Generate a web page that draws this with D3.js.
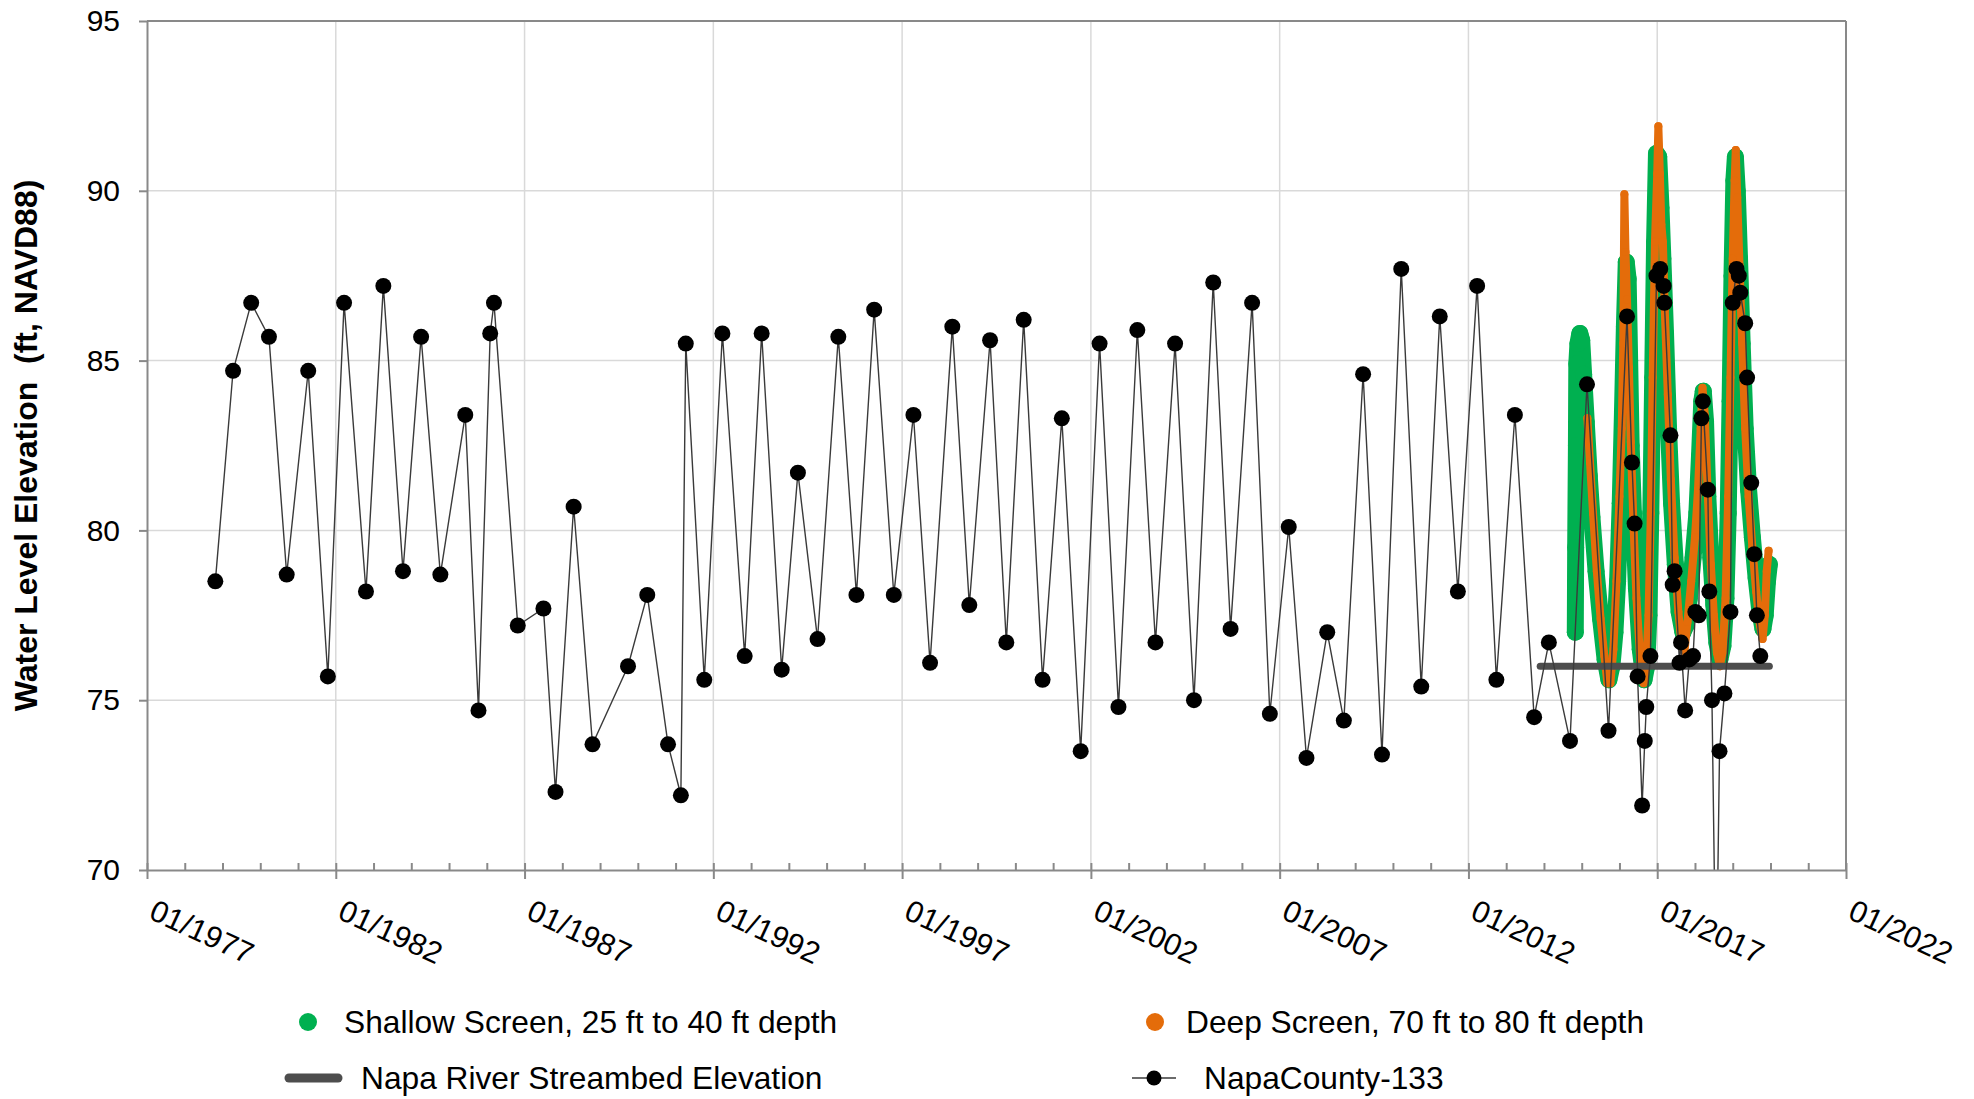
<!DOCTYPE html>
<html><head><meta charset="utf-8">
<script src="https://cdn.jsdelivr.net/npm/d3@7"></script>
<style>
html,body{margin:0;padding:0;background:#fff;}
svg{display:block;font-family:"Liberation Sans",Arial,sans-serif;}
</style></head><body>
<svg id="chart" width="1974" height="1099"></svg>
<script>
// ---- Data (decimal years, ft NAVD88) ----
const napaYears = [1978.81,1979.28,1979.76,1980.23,1980.70,1981.27,1981.79,1982.22,1982.80,1983.26,1983.78,1984.26,1984.77,1985.43,1985.78,1986.09,1986.19,1986.82,1987.50,1987.82,1988.30,1988.80,1989.74,1990.25,1990.80,1991.14,1991.27,1991.76,1992.24,1992.83,1993.28,1993.81,1994.24,1994.76,1995.31,1995.79,1996.26,1996.78,1997.30,1997.74,1998.33,1998.78,1999.33,1999.76,2000.22,2000.72,2001.23,2001.73,2002.23,2002.73,2003.23,2003.71,2004.23,2004.73,2005.24,2005.70,2006.27,2006.74,2007.24,2007.71,2008.26,2008.70,2009.21,2009.71,2010.22,2010.75,2011.24,2011.72,2012.23,2012.74,2013.23,2013.74,2014.13,2014.69,2015.14,2015.71,2016.20,2016.33,2016.40,2016.48,2016.60,2016.67,2016.71,2016.82,2016.98,2017.08,2017.17,2017.19,2017.35,2017.41,2017.46,2017.59,2017.63,2017.74,2017.85,2017.95,2018.01,2018.10,2018.17,2018.21,2018.34,2018.38,2018.45,2018.56,2018.65,2018.78,2018.94,2019.00,2019.10,2019.16,2019.20,2019.33,2019.38,2019.49,2019.57,2019.64,2019.73];
const napaLevels = [78.5,84.7,86.7,85.7,78.7,84.7,75.7,86.7,78.2,87.2,78.8,85.7,78.7,83.4,74.7,85.8,86.7,77.2,77.7,72.3,80.7,73.7,76.0,78.1,73.7,72.2,85.5,75.6,85.8,76.3,85.8,75.9,81.7,76.8,85.7,78.1,86.5,78.1,83.4,76.1,86.0,77.8,85.6,76.7,86.2,75.6,83.3,73.5,85.5,74.8,85.9,76.7,85.5,75.0,87.3,77.1,86.7,74.6,80.1,73.3,77.0,74.4,84.6,73.4,87.7,75.4,86.3,78.2,87.2,75.6,83.4,74.5,76.7,73.8,84.3,74.1,86.3,82.0,80.2,75.7,71.9,73.8,74.8,76.3,87.5,87.7,87.2,86.7,82.8,78.4,78.8,76.1,76.7,74.7,76.2,76.3,77.6,77.5,83.3,83.8,81.2,78.2,75.0,66.0,73.5,75.2,77.6,86.7,87.7,87.5,87.0,86.1,84.5,81.4,79.3,77.5,76.3];

const shallowYears = [2014.83,2014.84,2014.86,2014.87,2014.90,2014.95,2015.00,2015.05,2015.12,2015.20,2015.27,2015.38,2015.50,2015.62,2015.72,2015.80,2015.88,2015.95,2016.02,2016.08,2016.13,2016.18,2016.23,2016.27,2016.31,2016.37,2016.45,2016.55,2016.65,2016.72,2016.78,2016.83,2016.88,2016.93,2016.98,2017.04,2017.10,2017.15,2017.22,2017.30,2017.38,2017.48,2017.58,2017.68,2017.76,2017.85,2017.95,2018.05,2018.12,2018.18,2018.22,2018.28,2018.34,2018.42,2018.50,2018.58,2018.66,2018.74,2018.82,2018.88,2018.93,2018.98,2019.03,2019.07,2019.12,2019.18,2019.25,2019.33,2019.42,2019.52,2019.62,2019.72,2019.80,2019.86,2019.92,2019.97];
const shallowLevels = [77.0,79.5,82.5,84.9,85.5,85.8,85.6,84.6,83.2,81.6,80.4,78.8,77.4,76.2,75.6,76.0,77.0,78.5,80.8,83.5,86.0,87.9,87.4,85.0,82.5,80.5,78.3,76.5,75.6,76.0,77.5,80.5,84.5,88.5,91.1,91.0,89.5,88.0,85.8,83.0,80.8,79.0,77.6,77.0,77.2,78.0,79.2,80.5,82.2,83.8,84.1,83.2,81.0,79.2,77.8,76.7,76.2,76.6,78.0,80.5,83.8,87.5,90.3,91.0,90.0,88.0,85.5,83.0,81.2,79.8,78.6,77.6,77.1,77.5,78.5,79.0];

const deepYears = [2015.15,2015.22,2015.30,2015.40,2015.50,2015.60,2015.68,2015.76,2015.84,2015.92,2016.00,2016.06,2016.10,2016.13,2016.16,2016.20,2016.25,2016.30,2016.37,2016.45,2016.55,2016.64,2016.70,2016.77,2016.83,2016.88,2016.94,2017.00,2017.03,2017.07,2017.11,2017.15,2017.20,2017.28,2017.36,2017.46,2017.56,2017.65,2017.72,2017.80,2017.90,2018.00,2018.08,2018.15,2018.20,2018.26,2018.33,2018.42,2018.50,2018.58,2018.66,2018.73,2018.81,2018.88,2018.94,2019.00,2019.05,2019.08,2019.12,2019.18,2019.25,2019.33,2019.42,2019.52,2019.62,2019.72,2019.79,2019.85,2019.90,2019.95];
const deepLevels = [83.3,82.0,80.5,78.8,77.4,76.3,75.5,75.5,76.5,78.5,81.0,83.0,85.5,89.9,88.2,86.8,84.8,82.6,80.2,78.0,76.2,75.5,75.9,77.5,80.5,84.5,88.5,90.5,91.9,90.5,89.0,88.5,86.5,84.0,81.5,79.2,77.6,76.6,76.4,77.3,78.5,79.8,81.2,83.0,84.2,83.4,81.3,79.0,77.5,76.4,76.0,76.4,78.0,81.0,84.5,88.0,90.3,91.2,89.8,87.8,85.5,83.0,81.0,79.5,78.2,77.2,76.8,77.5,78.8,79.4];

const streambedYears = [2013.9, 2019.97];
const streambedLevels = [76.0, 76.0];

const xTickYears = [1977,1982,1987,1992,1997,2002,2007,2012,2017,2022];
const yTicks = [70,75,80,85,90,95];
const legendLabels = ["Shallow Screen, 25 ft to 40 ft depth","Deep Screen, 70 ft to 80 ft depth","Napa River Streambed Elevation","NapaCounty-133"];
const yTitle = "Water Level Elevation  (ft, NAVD88)";

// ---- Layout ----
const W = 1974, H = 1099;
const m = {left:147, right:128, top:21, bottom:229};
const iw = W - m.left - m.right, ih = H - m.top - m.bottom;
const C = {green:"#00b050", orange:"#e46c0a", stream:"#4d4d4d", black:"#000", line:"#3a3a3a", axis:"#898989", grid:"#d9d9d9"};

const svg = d3.select("#chart");
const g = svg.append("g").attr("transform",`translate(${m.left},${m.top})`);

const x = d3.scaleLinear().domain([1977,2022]).range([0,iw]);
const y = d3.scaleLinear().domain([70,95]).range([ih,0]);

// grid
g.append("g").selectAll("line").data(yTicks.filter(v=>v>70&&v<95)).join("line")
  .attr("x1",0).attr("x2",iw).attr("y1",d=>y(d)).attr("y2",d=>y(d))
  .attr("stroke",C.grid).attr("stroke-width",1.5);
g.append("g").selectAll("line").data(xTickYears.filter(v=>v>1977&&v<2022)).join("line")
  .attr("x1",d=>x(d)).attr("x2",d=>x(d)).attr("y1",0).attr("y2",ih)
  .attr("stroke",C.grid).attr("stroke-width",1.5);

// border top/right
g.append("line").attr("x1",0).attr("x2",iw).attr("y1",0).attr("y2",0).attr("stroke",C.axis).attr("stroke-width",2);
g.append("line").attr("x1",iw).attr("x2",iw).attr("y1",0).attr("y2",ih).attr("stroke",C.axis).attr("stroke-width",2);

// clip
svg.append("defs").append("clipPath").attr("id","plotclip").append("rect")
  .attr("x",0).attr("y",0).attr("width",iw).attr("height",ih);
const pg = g.append("g").attr("clip-path","url(#plotclip)");

const zip = (xs,ys)=>xs.map((d,i)=>[d,ys[i]]);
const shallow = zip(shallowYears, shallowLevels);
const deep = zip(deepYears, deepLevels);
const napa = zip(napaYears, napaLevels);
const stream = zip(streambedYears, streambedLevels);
const line = d3.line().x(d=>x(d[0])).y(d=>y(d[1]));

// shallow (large markers rendered as dense band)
pg.append("path").datum(shallow).attr("d",line).attr("fill","none")
  .attr("stroke",C.green).attr("stroke-width",17).attr("stroke-linejoin","round").attr("stroke-linecap","round");
pg.append("g").selectAll("circle").data(shallow).join("circle")
  .attr("cx",d=>x(d[0])).attr("cy",d=>y(d[1])).attr("r",8.5).attr("fill",C.green);
// deep
pg.append("path").datum(deep).attr("d",line).attr("fill","none")
  .attr("stroke",C.orange).attr("stroke-width",8).attr("stroke-linejoin","round").attr("stroke-linecap","round");
pg.append("g").selectAll("circle").data(deep).join("circle")
  .attr("cx",d=>x(d[0])).attr("cy",d=>y(d[1])).attr("r",4).attr("fill",C.orange);
// streambed
pg.append("path").datum(stream).attr("d",line).attr("fill","none")
  .attr("stroke",C.stream).attr("stroke-width",7).attr("stroke-linecap","round");
// NapaCounty-133
pg.append("path").datum(napa).attr("d",line).attr("fill","none")
  .attr("stroke",C.line).attr("stroke-width",1.4);
pg.append("g").selectAll("circle").data(napa).join("circle")
  .attr("cx",d=>x(d[0])).attr("cy",d=>y(d[1])).attr("r",8).attr("fill",C.black);

// axes
const xAxis = g.append("g").attr("transform",`translate(0,${ih})`)
  .call(d3.axisBottom(x).tickValues(xTickYears).tickFormat(d=>"01/"+d).tickSizeOuter(0).tickSizeInner(9));
xAxis.select(".domain").attr("stroke",C.axis).attr("stroke-width",2);
xAxis.selectAll(".tick line").attr("stroke",C.axis).attr("stroke-width",2).attr("y1",-7).attr("y2",9);
xAxis.selectAll(".tick text").attr("fill","#000").attr("font-size",30.5)
  .attr("y",0).attr("dy",0).attr("text-anchor","start")
  .attr("transform","translate(0,48) rotate(25)");
const minorYears = d3.range(1978,2022).filter(v=>!xTickYears.includes(v));
const xMinor = g.append("g").attr("transform",`translate(0,${ih})`)
  .call(d3.axisBottom(x).tickValues(minorYears).tickFormat("").tickSizeOuter(0).tickSizeInner(-7));
xMinor.select(".domain").remove();
xMinor.selectAll(".tick line").attr("stroke",C.axis).attr("stroke-width",2);

const yAxis = g.append("g")
  .call(d3.axisLeft(y).tickValues(yTicks).tickSizeOuter(0).tickSizeInner(8).tickPadding(19));
yAxis.select(".domain").attr("stroke",C.axis).attr("stroke-width",2);
yAxis.selectAll(".tick line").attr("stroke",C.axis).attr("stroke-width",2);
yAxis.selectAll(".tick text").attr("fill","#000").attr("font-size",30);

// y title
svg.append("text").attr("transform",`translate(37,${m.top+ih/2}) rotate(-90)`)
  .attr("text-anchor","middle").attr("font-size",32).attr("font-weight","bold")
  .style("white-space","pre").text(yTitle);

// legend
const lg = svg.append("g").attr("font-size",31.7);
lg.append("circle").attr("cx",308).attr("cy",1022).attr("r",9).attr("fill",C.green);
lg.append("text").attr("x",344).attr("y",1022).attr("dy","0.35em").text(legendLabels[0]);
lg.append("circle").attr("cx",1155).attr("cy",1022).attr("r",9).attr("fill",C.orange);
lg.append("text").attr("x",1186).attr("y",1022).attr("dy","0.35em").text(legendLabels[1]);
lg.append("line").attr("x1",289).attr("x2",338).attr("y1",1078).attr("y2",1078)
  .attr("stroke",C.stream).attr("stroke-width",9).attr("stroke-linecap","round");
lg.append("text").attr("x",361).attr("y",1078).attr("dy","0.35em").text(legendLabels[2]);
lg.append("line").attr("x1",1132).attr("x2",1176).attr("y1",1078).attr("y2",1078)
  .attr("stroke",C.line).attr("stroke-width",1.5);
lg.append("circle").attr("cx",1154).attr("cy",1078).attr("r",7.5).attr("fill",C.black);
lg.append("text").attr("x",1204).attr("y",1078).attr("dy","0.35em").text(legendLabels[3]);
</script>
</body></html>
